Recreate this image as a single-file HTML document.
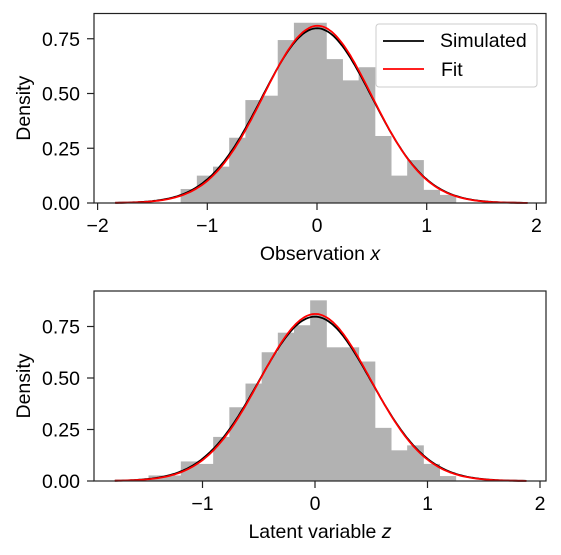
<!DOCTYPE html>
<html><head><meta charset="utf-8"><style>
body{margin:0;background:#fff}
svg{display:block;font-family:"Liberation Sans",sans-serif}
</style></head><body>
<svg id="c" width="561" height="555"></svg>
<script>
const topEdgesStart=-1.243, binW=0.1475;
const topDens=[0.064,0.125,0.166,0.298,0.47,0.49,0.744,0.823,0.823,0.657,0.56,0.62,0.306,0.125,0.196,0.06,0.037];
const botEdgesStart=-1.48, binW2=0.1437;
const botDens=[0.027,0.027,0.095,0.083,0.214,0.358,0.473,0.625,0.72,0.756,0.877,0.649,0.649,0.58,0.258,0.149,0.173,0.083,0.024];
const topSim=[0,0.5], topFit=[0.005,0.493];
const botSim=[0,0.5], botFit=[0.003,0.492];
const yTicks=[0,0.25,0.5,0.75];
const topXTicks=[-2,-1,0,1,2];
const botXTicks=[-1,0,1,2];
const FS=19.5;
const NS="http://www.w3.org/2000/svg";
const svg=document.getElementById('c');
function mk(t,a,p){const e=document.createElementNS(NS,t);for(const k in a)e.setAttribute(k,a[k]);(p||svg).appendChild(e);return e;}
function panel(o){
  const g=mk('g',{});
  
  
  const X=v=>o.x0+v*o.sx, Y=v=>o.y0-v*o.sy;
  o.dens.forEach((d,i)=>{
    const r=mk('rect',{x:X(o.start+i*o.w),y:Y(d),width:o.w*o.sx+0.5,height:d*o.sy,fill:'#b2b2b2'},g);
    
    
  });
  function curve(p,col,nm){
    let pts=[];
    for(let i=0;i<=200;i++){const x=o.c0+(o.c1-o.c0)*i/200;const y=Math.exp(-0.5*((x-p[0])/p[1])**2)/(p[1]*Math.sqrt(2*Math.PI));pts.push(X(x).toFixed(1)+','+Y(y).toFixed(1));}
    const l=mk('polyline',{points:pts.join(' '),fill:'none',stroke:col,'stroke-width':1.8},g);
    
    
  }
  curve(o.sim,'#000','simulated-curve');
  curve(o.fit,'#f00','fit-curve');
  const b=mk('rect',{x:o.L,y:o.T,width:o.R-o.L,height:o.B-o.T,fill:'none',stroke:'#222','stroke-width':1.2},g);
  
  
  yTicks.forEach(v=>{
    mk('line',{x1:o.L-7,x2:o.L,y1:Y(v),y2:Y(v),stroke:'#222','stroke-width':1.2},g);
    const t=mk('text',{x:o.L-14,y:Y(v)+7,'text-anchor':'end','font-size':FS},g);
    t.textContent=v.toFixed(2);
    
    
  });
  o.xt.forEach(v=>{
    mk('line',{x1:X(v),x2:X(v),y1:o.B,y2:o.B+7,stroke:'#222','stroke-width':1.2},g);
    const t=mk('text',{x:X(v),y:o.B+29,'text-anchor':'middle','font-size':FS},g);
    t.textContent=v<0?'\u2212'+(-v):String(v);
    
    
  });
  const yl=mk('text',{x:0,y:0,'text-anchor':'middle','font-size':FS,transform:`translate(30,${(o.T+o.B)/2}) rotate(-90)`},g);
  yl.textContent='Density';
  
  
  const xl=mk('text',{x:(o.L+o.R)/2,y:o.B+57,'text-anchor':'middle','font-size':FS},g);
  xl.innerHTML=o.xlab+' <tspan font-style="italic">'+o.var+'</tspan>';
  
  
}
panel({name:'top-panel',L:94,R:546,T:13.5,B:203,x0:317,sx:109.7,y0:203,sy:219,dens:topDens,start:topEdgesStart,w:binW,sim:topSim,fit:topFit,c0:-1.84,c1:1.92,xt:topXTicks,xlab:'Observation',var:'x'});
panel({name:'bottom-panel',L:94,R:546,T:291,B:481,x0:315,sx:112.5,y0:481,sy:206,dens:botDens,start:botEdgesStart,w:binW2,sim:botSim,fit:botFit,c0:-1.78,c1:1.88,xt:botXTicks,xlab:'Latent variable',var:'z'});
const lg=mk('g',{});


mk('rect',{x:376,y:24,width:161,height:63,rx:3,fill:'#fff','fill-opacity':0.85,stroke:'#ccc'},lg);
mk('line',{x1:383,x2:424,y1:41,y2:41,stroke:'#000','stroke-width':1.8},lg);
mk('line',{x1:383,x2:424,y1:69,y2:69,stroke:'#f00','stroke-width':1.8},lg);
const t1=mk('text',{x:440,y:47,'font-size':FS},lg);t1.textContent='Simulated';


const t2=mk('text',{x:441,y:76,'font-size':FS},lg);t2.textContent='Fit';


</script>
</body></html>
